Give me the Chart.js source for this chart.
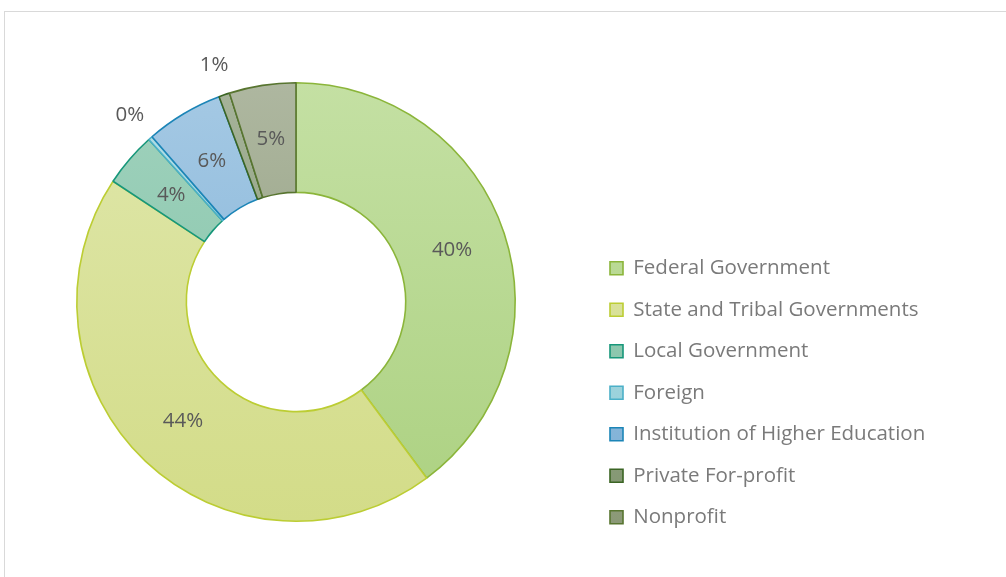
<!DOCTYPE html>
<html>
<head>
<meta charset="utf-8">
<script src="https://cdn.jsdelivr.net/npm/chart.js@4"></script>
<style>
  html, body { margin: 0; padding: 0; background: #fff; overflow: hidden; }
  #frame {
    position: absolute; left: 4px; top: 11px; width: 1100px; height: 700px;
    border: 1px solid #d9d9d9; box-sizing: border-box;
  }
  #wrap { position: absolute; left: 0; top: 0; width: 1006px; height: 577px; }
</style>
</head>
<body>
<div id="frame"></div>
<div id="wrap"><canvas id="context"></canvas></div>
<script>
// categories and shares (percent of total), clockwise from 12 o'clock
const categories = [
  'Federal Government',
  'State and Tribal Governments',
  'Local Government',
  'Foreign',
  'Institution of Higher Education',
  'Private For-profit',
  'Nonprofit'
];
const shares = [39.8, 44.4, 4.0, 0.3, 5.7, 0.8, 4.9];

// colours: gradient top, gradient bottom, outline
const fillTop = ['#c4e0a3', '#dfe7ab', '#a0d2bd', '#b2dee5', '#a5c9e4', '#a6b39a', '#aeb7a0'];
const fillBottom = ['#acd181', '#d3dc88', '#80c1a5', '#93ced8', '#7cafd6', '#829671', '#8b9977'];
const outline = ['#8bb53a', '#bccd33', '#17977a', '#4bb0c8', '#1c85b7', '#3b6524', '#587530'];

const labelFont = '"Open Sans", "DejaVu Sans", sans-serif';

/**
 * Vertical gradient over the chart area for one slice
 */
function sliceFill(context) {
  const chart = context.chart;
  const area = chart.chartArea;
  const i = context.dataIndex;
  if (!area || i === undefined) return fillTop[i || 0];
  const g = chart.ctx.createLinearGradient(0, area.top, 0, area.bottom);
  g.addColorStop(0, fillTop[i]);
  g.addColorStop(1, fillBottom[i]);
  return g;
}

// percentage labels, inside the ring or just outside for thin slices
const sliceLabels = {
  id: 'sliceLabels',
  afterDatasetsDraw(chart) {
    const ctx = chart.ctx;
    const meta = chart.getDatasetMeta(0);
    const total = shares.reduce((a, b) => a + b, 0);
    ctx.save();
    ctx.font = '20.5px ' + labelFont;
    ctx.fillStyle = '#595959';
    ctx.textAlign = 'center';
    ctx.textBaseline = 'middle';
    meta.data.forEach((arc, i) => {
      const p = arc.getProps(['x', 'y', 'startAngle', 'endAngle', 'innerRadius', 'outerRadius'], true);
      const mid = (p.startAngle + p.endAngle) / 2;
      const pct = shares[i] / total * 100;
      const r = pct < 2 ? p.outerRadius + 31 : (p.innerRadius + p.outerRadius) / 2;
      ctx.fillText(Math.round(pct) + '%', p.x + Math.cos(mid) * r, p.y + Math.sin(mid) * r);
    });
    ctx.restore();
  }
};

// legend: fixed width so the ring sits on the left, block moved down
const legendPlacement = {
  id: 'legendPlacement',
  beforeInit(chart) {
    const fit = chart.legend.fit;
    chart.legend.fit = function () {
      fit.bind(chart.legend)();
      this.width = 414;
    };
  },
  afterLayout(chart) {
    const legend = chart.legend;
    const w = legend.right - legend.left;
    const h = legend.bottom - legend.top;
    legend.left = 589;
    legend.right = 589 + w;
    legend.top = 237;
    legend.bottom = 237 + h;
  }
};

function init() {
  const ctx = document.getElementById('context');

  const data = {
    labels: categories,
    datasets: [{
      data: shares,
      backgroundColor: sliceFill,
      borderColor: outline,
      borderWidth: 1.6,
      hoverOffset: 0
    }]
  };

  new Chart(ctx, {
    type: 'doughnut',
    data,
    plugins: [sliceLabels, legendPlacement],
    options: {
      responsive: true,
      maintainAspectRatio: false,
      animation: false,
      cutout: '50%',
      layout: { padding: { left: 0, right: 0, top: 82, bottom: 55 } },
      plugins: {
        tooltip: { enabled: false },
        legend: {
          position: 'right',
          align: 'start',
          labels: {
            boxWidth: 13,
            boxHeight: 13,
            padding: 21,
            color: '#7a7a7a',
            font: { family: labelFont, size: 20.5 }
          }
        }
      }
    }
  });
}

init();
</script>
</body>
</html>
